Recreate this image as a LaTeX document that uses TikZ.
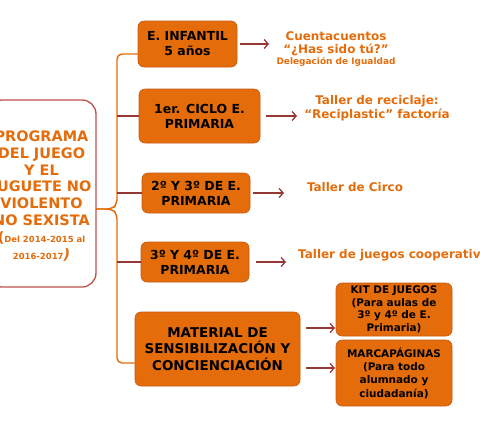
\documentclass[tikz,border=0pt]{standalone}
\usepackage{fontspec}
\setmainfont{DejaVu Sans}
\usetikzlibrary{arrows.meta}
\definecolor{boxorange}{HTML}{E46C0A}
\definecolor{boxedge}{HTML}{C55A11}
\definecolor{txtorange}{HTML}{E46C0A}
\definecolor{darkred}{HTML}{953735}
\definecolor{rootred}{HTML}{C0504D}
\begin{document}
\begin{tikzpicture}[x=1bp,y=-1bp,
  box/.style={rounded corners=6bp, fill=boxorange, draw=boxedge, line width=0.6bp,
    align=center, text=black, inner sep=0pt,
    font=\fontsize{12.5}{15}\selectfont\bfseries},
  rootbox/.style={rounded corners=14bp, fill=white, draw=rootred, line width=1.3bp,
    align=center, text=txtorange, inner sep=0pt,
    font=\fontsize{14.5}{17}\selectfont\bfseries},
  lbl/.style={align=center, text=txtorange, inner sep=0pt,
    font=\fontsize{12}{13.5}\selectfont\bfseries},
  arr/.style={draw=darkred, line width=1.3bp, -{Straight Barb[length=4bp,width=9bp]}},
  brace/.style={draw=boxorange, line width=1.4bp, rounded corners=5bp},
  tick/.style={draw=darkred, line width=1.5bp}]
\useasboundingbox (0,0) rectangle (480,420);

% root
\node[rootbox, minimum width=108bp, minimum height=187bp] (root) at (42,193.5) {};
\node[rootbox, draw=none, fill=none, anchor=center] (roottext) at (41.5,196)
  {PROGRAMA\\DEL JUEGO\\Y EL\\JUGUETE NO\\VIOLENTO\\NO SEXISTA\\
   {\Large(}{\fontsize{8.5}{9}\selectfont Del 2014-2015 al}\\
   {\fontsize{8.5}{9}\selectfont 2016-2017}{\Large\itshape)}};

% level boxes
\node[box, minimum width=99bp, minimum height=46bp] (inf) at (187.5,44) {E. INFANTIL\\5 años};
\node[box, minimum width=121bp, minimum height=54bp] (c1) at (199.5,116) {1er. CICLO E.\\PRIMARIA};
\node[box, minimum width=108bp, minimum height=40bp] (c23) at (196,193) {2º Y 3º DE E.\\PRIMARIA};
\node[box, minimum width=108bp, minimum height=40bp] (c34) at (195,262) {3º Y 4º DE E.\\PRIMARIA};
\node[box, minimum width=165bp, minimum height=74bp, font=\fontsize{13.5}{16.7}\selectfont\bfseries] (mat) at (217.5,349)
  {MATERIAL DE\\SENSIBILIZACIÓN Y\\CONCIENCIACIÓN};
\node[box, minimum width=116bp, minimum height=53bp, font=\fontsize{10.5}{12.6}\selectfont\bfseries] (kit) at (394,309.5)
  {KIT DE JUEGOS\\(Para aulas de\\3º y 4º de E.\\Primaria)};
\node[box, minimum width=116bp, minimum height=66bp, font=\fontsize{10.5}{13.3}\selectfont\bfseries] (marc) at (394,373)
  {MARCAPÁGINAS\\(Para todo\\alumnado y\\ciudadanía)};

% labels
\node[lbl] (l1) at (336,49) {Cuentacuentos\\“¿Has sido tú?”\\[-2bp]{\fontsize{9}{10}\selectfont Delegación de Igualdad}};
\node[lbl] (l2) at (377,108) {Taller de reciclaje:\\“Reciplastic” factoría};
\node[lbl] (l3) at (355,187) {Taller de Circo};
\node[lbl, anchor=west] (l4) at (298,255.5) {Taller de juegos cooperativos};

% arrow endpoints
\coordinate (a1s) at (240,44);  \coordinate (a1e) at (269,44);
\coordinate (a2s) at (266,116); \coordinate (a2e) at (297,116);
\coordinate (a3s) at (253,193); \coordinate (a3e) at (284,193);
\coordinate (a4s) at (256,262); \coordinate (a4e) at (286,262);
\coordinate (a5s) at (306,328); \coordinate (a5e) at (335,328);
\coordinate (a6s) at (306,368); \coordinate (a6e) at (335,368);
\draw[arr] (a1s) -- (a1e);
\draw[arr] (a2s) -- (a2e);
\draw[arr] (a3s) -- (a3e);
\draw[arr] (a4s) -- (a4e);
\draw[arr] (a5s) -- (a5e);
\draw[arr] (a6s) -- (a6e);

% brace
\coordinate (trunk) at (117,0);
\coordinate (tip) at (96,209);
\coordinate (btop) at (140,54);
\coordinate (bbot) at (136,363);
\draw[brace] (btop) -- (117,54) -- (117,204) -- (112,209) -- (tip);
\draw[brace] (tip) -- (112,209) -- (117,214) -- (117,363) -- (bbot);

% ticks
\draw[tick] (c1.west -| trunk) -- (c1.west);
\draw[tick] (c23.west -| trunk) -- (c23.west);
\draw[tick] (c34.west -| trunk) -- (c34.west);
\end{tikzpicture}
\end{document}
